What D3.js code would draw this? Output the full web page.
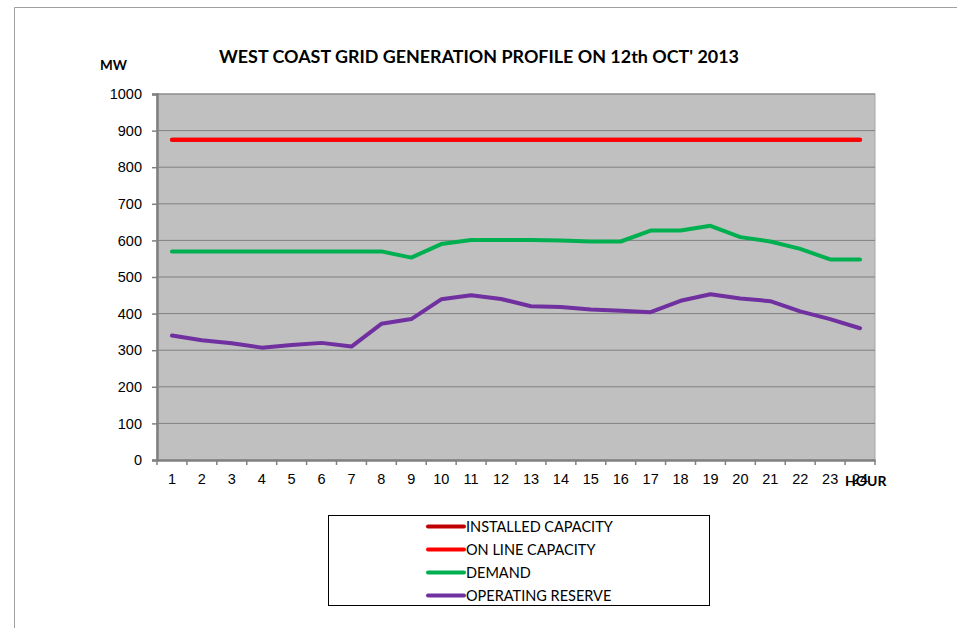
<!DOCTYPE html>
<html>
<head>
<meta charset="utf-8">
<script src="https://cdn.jsdelivr.net/npm/d3@7"></script>
<style>
  body { margin: 0; background: #fff; }
  svg { font-family: Lato, "Open Sans", sans-serif; }
</style>
</head>
<body>
<div id="chart"></div>
<script>
// hourly values, MW
var hours = d3.range(1, 25);
var installedCapacity = [875,875,875,875,875,875,875,875,875,875,875,875,875,875,875,875,875,875,875,875,875,875,875,875];
var onlineCapacity    = [875,875,875,875,875,875,875,875,875,875,875,875,875,875,875,875,875,875,875,875,875,875,875,875];
var demand            = [570,570,570,570,570,570,570,570,553,590,601,601,601,600,597,597,627,627,640,609,597,577,548,548];
var operatingReserve  = [340,327,319,307,314,320,310,372,385,439,450,440,420,418,411,408,404,435,453,441,434,406,385,360];
var yTicks = [0,100,200,300,400,500,600,700,800,900,1000];

var series = [
    { name: "INSTALLED CAPACITY", values: installedCapacity, color: "#c00000" },
    { name: "ON LINE CAPACITY", values: onlineCapacity, color: "#ff0000" },
    { name: "DEMAND", values: demand, color: "#00b050" },
    { name: "OPERATING RESERVE", values: operatingReserve, color: "#7030a0" }
];

var W = 957, H = 628;
var margin = { top: 94, left: 157 },
    width = 875 - 157,
    height = 460 - 94;

var svg = d3.select("#chart").append("svg")
    .attr("width", W)
    .attr("height", H);

// outer chart frame (only top and left edges show)
svg.append("path")
    .attr("d", "M14.5," + H + "V7.5H" + W)
    .attr("fill", "none")
    .attr("stroke", "#a0a0a0");

var g = svg.append("g")
    .attr("transform", "translate(" + margin.left + "," + margin.top + ")");

var x = d3.scaleBand().domain(hours).range([0, width]);
var y = d3.scaleLinear().domain([0, 1000]).range([height, 0]);

// plot background
g.append("rect")
    .attr("width", width)
    .attr("height", height)
    .attr("fill", "#c0c0c0")
    .attr("stroke", "#a6a6a6");

// gridlines
g.selectAll(".grid").data(yTicks.filter(d => d > 0))
    .enter().append("line")
    .attr("x1", 0).attr("x2", width)
    .attr("y1", d => y(d)).attr("y2", d => y(d))
    .attr("stroke", "#808080")
    .attr("stroke-width", 1);

// y axis
var yAxis = g.append("g")
    .call(d3.axisLeft(y).tickValues(yTicks).tickFormat(d3.format("d")).tickSize(5).tickPadding(10));
yAxis.select(".domain").attr("stroke", "#808080").attr("stroke-width", 2.5);
yAxis.selectAll(".tick line").attr("stroke", "#808080").attr("stroke-width", 1.5);
yAxis.selectAll("text").attr("font-size", 14.5).attr("fill", "#000");

// x axis, ticks at band edges
var xAxis = g.append("g")
    .attr("transform", "translate(0," + height + ")")
    .call(d3.axisBottom(x).tickSize(0).tickPadding(14));
xAxis.select(".domain").attr("stroke", "#808080").attr("stroke-width", 2.5);
xAxis.selectAll("text").attr("font-size", 14.5).attr("fill", "#000");
g.selectAll(".xtick").data(hours.concat([25]))
    .enter().append("line")
    .attr("x1", d => x.step() * (d - 1)).attr("x2", d => x.step() * (d - 1))
    .attr("y1", height).attr("y2", height + 5)
    .attr("stroke", "#808080")
    .attr("stroke-width", 1.5);

// lines
var line = d3.line()
    .x((d, i) => x(hours[i]) + x.bandwidth() / 2)
    .y(d => y(d));

g.selectAll(".series").data(series)
    .enter().append("path")
    .attr("d", d => line(d.values))
    .attr("fill", "none")
    .attr("stroke", d => d.color)
    .attr("stroke-width", 4)
    .attr("stroke-linecap", "round")
    .attr("stroke-linejoin", "round");

// title and axis labels
svg.append("text")
    .attr("x", 479).attr("y", 63)
    .attr("text-anchor", "middle")
    .attr("font-size", 16.5).attr("font-weight", "bold")
    .attr("textLength", 520).attr("lengthAdjust", "spacingAndGlyphs")
    .text("WEST COAST GRID GENERATION PROFILE ON 12th OCT' 2013");

svg.append("text")
    .attr("x", 100).attr("y", 70)
    .attr("font-size", 13.5).attr("font-weight", "bold")
    .text("MW");

svg.append("text")
    .attr("x", 845).attr("y", 486)
    .attr("font-size", 14).attr("font-weight", "bold")
    .text("HOUR");

// legend
var legend = svg.append("g");
legend.append("rect")
    .attr("x", 328.5).attr("y", 515.5)
    .attr("width", 381).attr("height", 90)
    .attr("fill", "#fff")
    .attr("stroke", "#000");

var row = legend.selectAll(".row").data(series)
    .enter().append("g")
    .attr("transform", (d, i) => "translate(0," + (526.5 + i * 23) + ")");
row.append("line")
    .attr("x1", 428).attr("x2", 464)
    .attr("stroke", d => d.color)
    .attr("stroke-width", 4)
    .attr("stroke-linecap", "round");
row.append("text")
    .attr("x", 466).attr("y", 5)
    .attr("font-size", 14.5)
    .text(d => d.name);
</script>
</body>
</html>
